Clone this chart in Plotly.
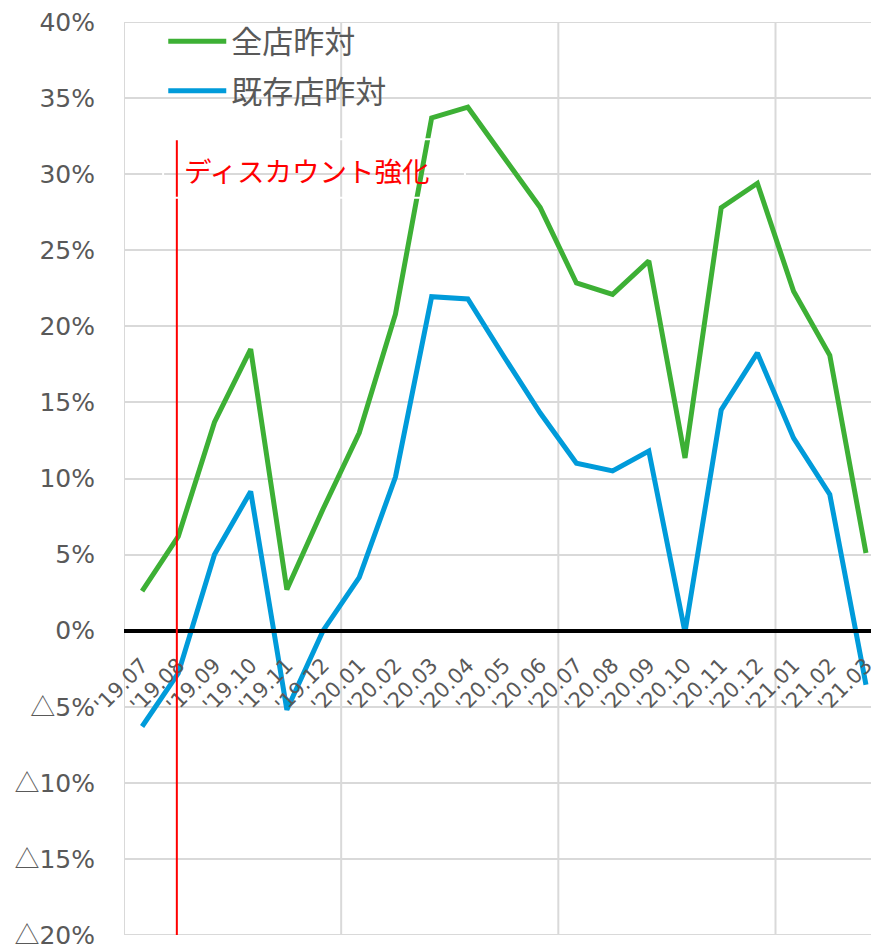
import plotly.graph_objects as go

# ---- data ----
categories = ["'19.07", "'19.08", "'19.09", "'19.10", "'19.11", "'19.12",
              "'20.01", "'20.02", "'20.03", "'20.04", "'20.05", "'20.06",
              "'20.07", "'20.08", "'20.09", "'20.10", "'20.11", "'20.12",
              "'21.01", "'21.02", "'21.03"]
all_stores = [2.6, 6.2, 13.7, 18.5, 2.7, 8.0, 13.0, 20.8, 33.7, 34.4, 31.1,
              27.8, 22.85, 22.1, 24.3, 11.35, 27.8, 29.4, 22.3, 18.1, 5.1]
existing_stores = [-6.3, -2.8, 5.0, 9.15, -5.2, 0.0, 3.5, 10.1, 21.95, 21.8,
                   18.0, 14.3, 11.0, 10.5, 11.8, -0.1, 14.5, 18.25, 12.65, 8.95, -3.55]
series_names = ["全店昨対", "既存店昨対"]
y_tickvals = [-20, -15, -10, -5, 0, 5, 10, 15, 20, 25, 30, 35, 40]
y_ticktext = ["△20%", "△15%", "△10%", "△5%", "0%", "5%", "10%", "15%",
              "20%", "25%", "30%", "35%", "40%"]
annotation_text = "ディスカウント強化"
event_category_index = 0.96
event_line_top = 32.3

GREEN = "#3DB035"
BLUE = "#009BDA"
GRAY_TEXT = "#595959"
GRID = "#D9D9D9"
LATIN = "DejaVu Sans, Noto Sans CJK JP, sans-serif"
CJK = "Noto Sans CJK JP, sans-serif"

# the triangle sign is rendered with the CJK font (full-width, like the original)
styled_yticks = [t.replace("△", "<span style='font-family:Noto Sans CJK JP'>△</span>")
                 for t in y_ticktext]

fig = go.Figure()
fig.add_trace(go.Scatter(x=categories, y=all_stores, mode="lines",
                         name=series_names[0], legendgroup="a",
                         line=dict(color=GREEN, width=5)))
fig.add_trace(go.Scatter(x=categories, y=existing_stores, mode="lines",
                         name=series_names[1], legendgroup="b",
                         line=dict(color=BLUE, width=5)))

# vertical gridlines every 6 categories (at boundaries)
for gx in [-0.5, 5.5, 11.5, 17.5]:
    fig.add_shape(type="line", xref="x", yref="paper", x0=gx, x1=gx, y0=0, y1=1,
                  line=dict(color=GRID, width=2), layer="below")
# horizontal gridlines at the two range ends
for gy in [y_tickvals[0], y_tickvals[-1]]:
    fig.add_shape(type="line", xref="paper", yref="y", x0=0, x1=1, y0=gy, y1=gy,
                  line=dict(color=GRID, width=2), layer="below")

# event line
fig.add_shape(type="line", xref="x", yref="y",
              x0=event_category_index, x1=event_category_index,
              y0=-20, y1=event_line_top, line=dict(color="#FF0000", width=2),
              layer="above")
# text box outline (white)
fig.add_shape(type="rect", xref="x", yref="y", x0=0.58, x1=8.92, y0=28.45,
              y1=event_line_top, line=dict(color="white", width=2),
              fillcolor="rgba(0,0,0,0)", layer="above")
fig.add_annotation(x=1.1, y=30.3, xref="x", yref="y", text=annotation_text,
                   showarrow=False, xanchor="left", yanchor="middle",
                   font=dict(family=CJK, size=27.5, color="#FF0000"))

# page body has an 8px margin: margins are set so the plot lands where the original's does
fig.update_layout(
    width=879, height=946,
    margin=dict(l=116, r=8, t=14, b=19, pad=0, autoexpand=False),
    paper_bgcolor="white", plot_bgcolor="white",
    showlegend=True,
    legend=dict(x=0.052, y=1.008, xanchor="left", yanchor="top",
                font=dict(family=CJK, size=31, color=GRAY_TEXT),
                bgcolor="rgba(0,0,0,0)", tracegroupgap=6, itemwidth=58),
    xaxis=dict(type="category", categoryorder="array", categoryarray=categories,
               range=[-0.5, 20.36], anchor="free", position=1/3,
               showline=True, linecolor="black", linewidth=4,
               showgrid=False, zeroline=False, ticks="", tickangle=-45,
               tickfont=dict(family=LATIN, size=21, color=GRAY_TEXT),
               ticklabelstandoff=12, automargin=False, ticklabeloverflow="allow"),
    yaxis=dict(range=[-20, 40], tickmode="array", tickvals=y_tickvals,
               ticktext=styled_yticks, showgrid=True, gridcolor=GRID, gridwidth=2,
               zeroline=False, ticks="", showline=False,
               tickfont=dict(family=LATIN, size=25, color=GRAY_TEXT),
               ticklabelstandoff=28, automargin=False, ticklabeloverflow="allow"),
)

fig.write_html("out.html")
